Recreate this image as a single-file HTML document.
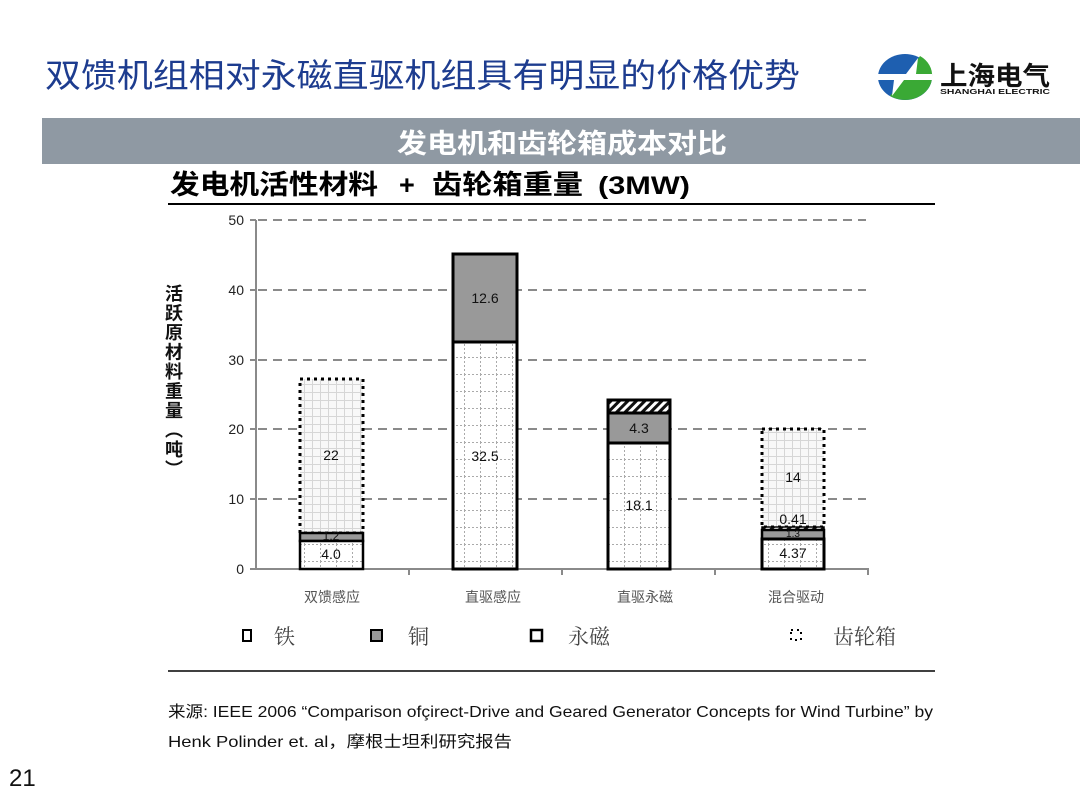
<!DOCTYPE html>
<html><head><meta charset="utf-8">
<style>
html,body{margin:0;padding:0;background:#fff;}
body{width:1080px;height:810px;overflow:hidden;}
svg{display:block;}
</style></head>
<body>
<svg width="1080" height="810" viewBox="0 0 1080 810" xmlns="http://www.w3.org/2000/svg">
<defs>
  <pattern id="iron" width="16" height="17" patternUnits="userSpaceOnUse" x="0" y="0">
    <rect width="16" height="17" fill="#fff"/>
    <line x1="0" y1="0.5" x2="16" y2="0.5" stroke="#aaa" stroke-width="1" stroke-dasharray="2,2"/>
    <line x1="0.5" y1="0" x2="0.5" y2="17" stroke="#aaa" stroke-width="1" stroke-dasharray="2,2"/>
  </pattern>
  <pattern id="gear" width="8" height="8" patternUnits="userSpaceOnUse">
    <rect width="8" height="8" fill="#f8f8f8"/>
    <line x1="0" y1="0.5" x2="8" y2="0.5" stroke="#d6d6d6" stroke-width="1"/>
    <line x1="0.5" y1="0" x2="0.5" y2="8" stroke="#d6d6d6" stroke-width="1"/>
  </pattern>
  <pattern id="pm" width="6" height="6" patternUnits="userSpaceOnUse" patternTransform="rotate(45)">
    <rect width="6" height="6" fill="#fff"/>
    <rect width="3" height="6" fill="#111"/>
  </pattern>
</defs>

<!-- Title -->
<text x="45" y="87" font-family="'Liberation Sans','Noto Sans CJK SC',sans-serif" font-size="33" fill="#1d3c8f" textLength="755" lengthAdjust="spacingAndGlyphs">双馈机组相对永磁直驱机组具有明显的价格优势</text>

<!-- Logo -->
<g>
  <ellipse cx="905" cy="77" rx="27" ry="23" fill="#1e5fb0"/>
  <path d="M905,77 L932,77 A27,23 0 0 1 890,96 L905,77 Z" fill="#3aa935"/>
  <path d="M920,56 A27,23 0 0 1 932,77 L905,77 Z" fill="#3aa935"/>
  <path d="M878,74 L906,74 L918,58 L916,74 L932,74 L932,80 L904,80 L892,96 L894,80 L878,80 Z" fill="#fff"/>
  <text x="940" y="85" font-family="'Liberation Sans','Noto Sans CJK SC',sans-serif" font-size="26" font-weight="bold" fill="#111" textLength="110" lengthAdjust="spacingAndGlyphs">上海电气</text>
  <text x="940" y="94" font-family="'Liberation Sans',sans-serif" font-size="7" font-weight="bold" fill="#111" textLength="110" lengthAdjust="spacingAndGlyphs">SHANGHAI ELECTRIC</text>
</g>

<!-- Band -->
<rect x="42" y="118" width="1038" height="46" fill="#8f99a3"/>
<text x="397" y="153" font-family="'Liberation Sans','Noto Sans CJK SC',sans-serif" font-size="27" font-weight="bold" fill="#fff" textLength="330" lengthAdjust="spacingAndGlyphs">发电机和齿轮箱成本对比</text>

<!-- Chart title -->
<g font-family="'Liberation Sans','Noto Sans CJK SC',sans-serif" font-weight="bold" fill="#000">
  <text x="170" y="194" font-size="27" textLength="208" lengthAdjust="spacingAndGlyphs">发电机活性材料</text>
  <text x="399" y="194" font-size="27">+</text>
  <text x="432" y="194" font-size="27" textLength="151" lengthAdjust="spacingAndGlyphs">齿轮箱重量</text>
  <text x="598" y="194" font-size="25" textLength="92" lengthAdjust="spacingAndGlyphs">(3MW)</text>
</g>
<line x1="168" y1="204" x2="935" y2="204" stroke="#000" stroke-width="2"/>

<!-- Y axis title -->
<text x="173" y="284" font-family="'Liberation Sans','Noto Sans CJK SC',sans-serif" font-size="18" font-weight="bold" fill="#111" style="writing-mode:vertical-rl;" letter-spacing="1.5">活跃原材料重量（吨）</text>

<!-- Gridlines -->
<g stroke="#8a8a8a" stroke-width="2" stroke-dasharray="9,6">
  <line x1="258" y1="220" x2="866" y2="220"/>
  <line x1="258" y1="290" x2="866" y2="290"/>
  <line x1="258" y1="360" x2="866" y2="360"/>
  <line x1="258" y1="429" x2="866" y2="429"/>
  <line x1="258" y1="499" x2="866" y2="499"/>
</g>
<!-- Axes -->
<g stroke="#8a8a8a" stroke-width="2">
  <line x1="256" y1="220" x2="256" y2="570"/>
  <line x1="250" y1="569" x2="869" y2="569"/>
  <line x1="250" y1="220" x2="256" y2="220"/>
  <line x1="250" y1="290" x2="256" y2="290"/>
  <line x1="250" y1="360" x2="256" y2="360"/>
  <line x1="250" y1="429" x2="256" y2="429"/>
  <line x1="250" y1="499" x2="256" y2="499"/>
  <line x1="409" y1="569" x2="409" y2="575"/>
  <line x1="562" y1="569" x2="562" y2="575"/>
  <line x1="715" y1="569" x2="715" y2="575"/>
  <line x1="868" y1="569" x2="868" y2="575"/>
</g>
<g font-family="'Liberation Sans',sans-serif" font-size="14" fill="#222" text-anchor="end">
  <text x="244" y="225">50</text>
  <text x="244" y="295">40</text>
  <text x="244" y="365">30</text>
  <text x="244" y="434">20</text>
  <text x="244" y="504">10</text>
  <text x="244" y="574">0</text>
</g>

<!-- Bar 1 -->
<rect x="300" y="379" width="63" height="154" fill="url(#gear)"/>
<rect x="300" y="379" width="63" height="154" fill="none" stroke="#000" stroke-width="3" stroke-dasharray="3,4"/>
<rect x="300" y="533" width="63" height="8" fill="#999" stroke="#000" stroke-width="2.5"/>
<rect x="300" y="541" width="63" height="28" fill="url(#iron)" stroke="#000" stroke-width="2.5"/>

<!-- Bar 2 -->
<rect x="453" y="342" width="64" height="227" fill="url(#iron)" stroke="#000" stroke-width="3"/>
<rect x="453" y="254" width="64" height="88" fill="#999" stroke="#000" stroke-width="3"/>

<!-- Bar 3 -->
<rect x="608" y="443" width="62" height="126" fill="url(#iron)" stroke="#000" stroke-width="3"/>
<rect x="608" y="413" width="62" height="30" fill="#999" stroke="#000" stroke-width="3"/>
<rect x="608" y="400" width="62" height="13" fill="url(#pm)" stroke="#000" stroke-width="3"/>

<!-- Bar 4 -->
<rect x="762" y="429" width="62" height="98" fill="url(#gear)"/>
<rect x="762" y="429" width="62" height="98" fill="none" stroke="#000" stroke-width="3" stroke-dasharray="3,4"/>
<rect x="762" y="527" width="62" height="3" fill="url(#pm)" stroke="#000" stroke-width="1.5"/>
<rect x="762" y="530" width="62" height="9" fill="#999" stroke="#000" stroke-width="2.5"/>
<rect x="762" y="539" width="62" height="30" fill="url(#iron)" stroke="#000" stroke-width="3"/>

<!-- Bar labels -->
<g font-family="'Liberation Sans',sans-serif" font-size="14" fill="#111" text-anchor="middle">
  <text x="331" y="559">4.0</text>
  <text x="331" y="540" font-size="12">1.2</text>
  <text x="331" y="460">22</text>
  <text x="485" y="303">12.6</text>
  <text x="485" y="461">32.5</text>
  <text x="639" y="433">4.3</text>
  <text x="639" y="510">18.1</text>
  <text x="793" y="482">14</text>
  <text x="793" y="524">0.41</text>
  <text x="793" y="537" font-size="10">1.3</text>
  <text x="793" y="558">4.37</text>
</g>

<!-- Category labels -->
<g font-family="'Liberation Sans','Noto Sans CJK SC',sans-serif" font-size="14" fill="#555" text-anchor="middle">
  <text x="332" y="602">双馈感应</text>
  <text x="493" y="602">直驱感应</text>
  <text x="645" y="602">直驱永磁</text>
  <text x="796" y="602">混合驱动</text>
</g>

<!-- Legend -->
<rect x="243" y="630" width="8" height="11" fill="#fff" stroke="#000" stroke-width="2"/>
<rect x="371" y="630" width="11" height="11" fill="#999" stroke="#000" stroke-width="2"/>
<rect x="531" y="630" width="11" height="11" fill="#fff" stroke="#000" stroke-width="2.5"/>
<rect x="791" y="630" width="10" height="10" fill="none" stroke="#000" stroke-width="2" stroke-dasharray="2,4"/>
<g font-family="'Liberation Serif','Noto Serif CJK SC',serif" font-size="21" fill="#444">
  <text x="274" y="644">铁</text>
  <text x="408" y="644">铜</text>
  <text x="568" y="644">永磁</text>
  <text x="833" y="644">齿轮箱</text>
</g>
<line x1="168" y1="671" x2="935" y2="671" stroke="#000" stroke-width="1.5"/>

<!-- Source -->
<g font-family="'Liberation Sans','Noto Sans CJK SC',sans-serif" font-size="16" fill="#111">
  <text x="168" y="717" textLength="765" lengthAdjust="spacingAndGlyphs">来源: IEEE 2006 “Comparison ofçirect-Drive and Geared Generator Concepts for Wind Turbine” by</text>
  <text x="168" y="747" textLength="344" lengthAdjust="spacingAndGlyphs">Henk Polinder et. al，摩根士坦利研究报告</text>
</g>

<!-- Page number -->
<text x="9" y="786" font-family="'Liberation Sans',sans-serif" font-size="24" fill="#111">21</text>
</svg>
</body></html>
